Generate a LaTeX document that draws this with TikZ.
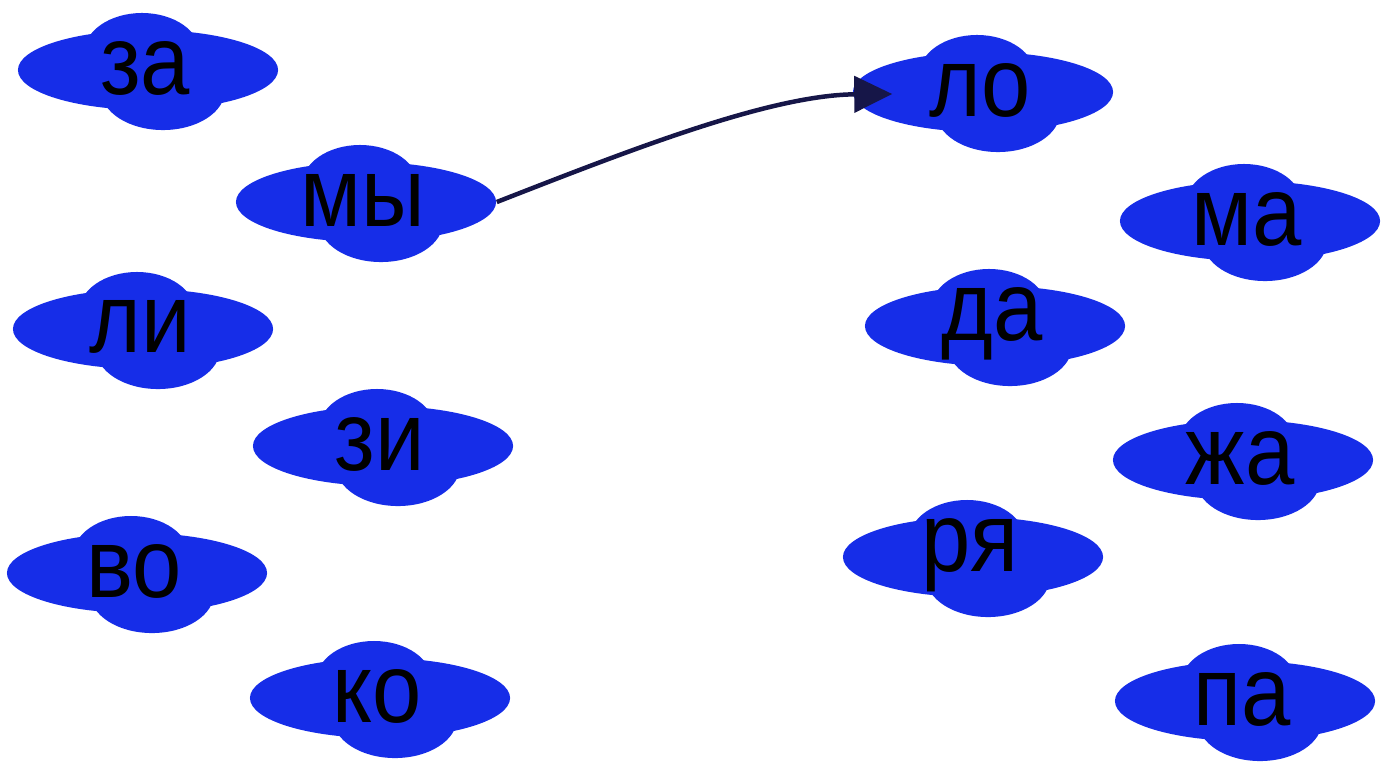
\documentclass[tikz,border=0pt]{standalone}
\usepackage{fontspec}
\setmainfont{Liberation Sans}[FakeStretch=0.9]
\usetikzlibrary{arrows.meta,shapes.geometric}
\definecolor{cloudblue}{RGB}{22,45,232}
\definecolor{arrowcol}{RGB}{22,22,72}
\tikzset{
  blob/.pic={
    \fill[cloudblue] (0,0) ellipse[x radius=13mm, y radius=4mm];
    \fill[cloudblue] (-6,-17) ellipse[x radius=5.8mm, y radius=4mm];
    \fill[cloudblue] (15,20) ellipse[x radius=6.2mm, y radius=4mm];
  },
  word/.style={shape=ellipse, minimum width=26mm, minimum height=8mm, inner sep=0pt},
  wordtext/.style={font=\fontsize{28}{28}\selectfont, inner sep=0pt, text=black},
  link/.style={draw=arrowcol, line width=0.45mm, -{Triangle[length=3.8mm,width=3.6mm]}}
}
\begin{document}
\begin{tikzpicture}[x=0.01cm,y=-0.01cm]
\useasboundingbox (0,0) rectangle (1392,766);
\foreach \n/\x/\y/\t in {za/148/70/за, my/366/202/мы, li/143/329/ли, zi/383/446/зи,
  vo/137/573/во, ko/380/698/ко, lo/983/92/ло, ma/1250/221/ма, da/995/326/да,
  zha/1243/460/жа, rya/973/557/ря, pa/1245/701/па} {
  \pic at (\x,\y) {blob};
  \node[word] (\n) at (\x,\y) {};
  \node[wordtext] (\n-t) at ([yshift=0.2mm,xshift=-0.3mm]\n.center) {\t};
}
\coordinate (tip) at ([xshift=4mm,yshift=-0.2mm]lo.west);
\draw[link] (my.east) .. controls (630,150) and (770,95) .. (tip);
\end{tikzpicture}
\end{document}
